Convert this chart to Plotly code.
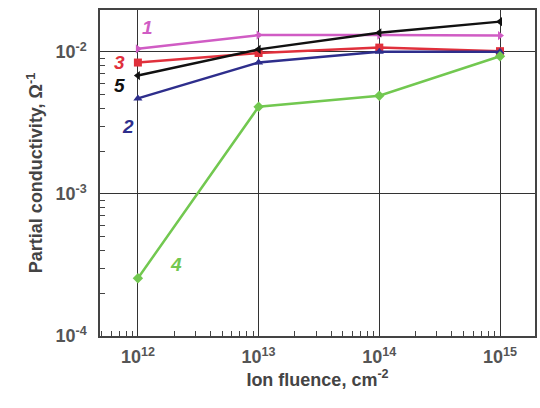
import math
import plotly.graph_objects as go

fluence = [1e12, 1e13, 1e14, 1e15]
s1 = [0.0105, 0.0131, 0.0131, 0.0130]
s3 = [0.0084, 0.0098, 0.0107, 0.0101]
s5 = [0.0068, 0.0104, 0.0136, 0.0163]
s2 = [0.0047, 0.0084, 0.0100, 0.0100]
s4 = [0.000255, 0.0041, 0.0049, 0.0093]

xtickvals = [1e12, 1e13, 1e14, 1e15]
xticktext = ["10<sup>12</sup>", "10<sup>13</sup>", "10<sup>14</sup>", "10<sup>15</sup>"]
ytickvals = [1e-4, 1e-3, 1e-2]
yticktext = ["10<sup>-4</sup>", "10<sup>-3</sup>", "10<sup>-2</sup>"]
xdecades = [1e11, 1e12, 1e13, 1e14, 1e15]
ydecades = [1e-4, 1e-3, 1e-2]
xminor = [m * d for d in xdecades for m in range(2, 10)]
yminor = [m * d for d in ydecades for m in range(2, 10)]

series = [
    ("1", s1, "#d05cc4", "triangle-right"),
    ("3", s3, "#e0303c", "square"),
    ("5", s5, "#111111", "triangle-left"),
    ("2", s2, "#2e2e8c", "triangle-up"),
    ("4", s4, "#72c850", "diamond"),
]

fig = go.Figure()
for name, ys, col, sym in series:
    fig.add_trace(go.Scatter(x=fluence, y=ys, mode="lines+markers", name=name,
                             line=dict(color=col, width=2.5),
                             marker=dict(color=col, symbol=sym, size=8)))

# label positions given in data units (converted to log for log axes)
labels = [
    ("1", 1.2e12, 0.0148, "#d05cc4"),
    ("3", 0.71e12, 0.0084, "#e0303c"),
    ("5", 0.71e12, 0.0058, "#111111"),
    ("2", 0.82e12, 0.0030, "#2e2e8c"),
    ("4", 2.05e12, 0.00032, "#72c850"),
]
for t, x, y, c in labels:
    fig.add_annotation(x=math.log10(x), y=math.log10(y), xref="x", yref="y",
                       text="<b><i>%s</i></b>" % t, showarrow=False,
                       font=dict(size=19, color=c, family="Liberation Sans"))

xr = [11.686, 15.29]
yr = [-4, -1.706]
tfont = dict(size=18, color="#555", family="Liberation Sans")
axis_common = dict(type="log", showline=True, linecolor="#444", linewidth=1.5, mirror=True,
                   showgrid=True, gridcolor="#333", gridwidth=1, ticks="", zeroline=False,
                   tickfont=tfont)

fig.update_xaxes(**axis_common, range=xr, tickvals=xtickvals, ticktext=["<b>%s</b>" % t for t in xticktext],
                 ticklabelstandoff=4,
                 title=dict(text="<b>Ion fluence, cm<sup>-2</sup></b>",
                            font=dict(size=18, color="#444", family="Liberation Sans"), standoff=4))
fig.update_yaxes(**axis_common, range=yr, tickvals=ytickvals, ticktext=["<b>%s</b>" % t for t in yticktext],
                 ticklabelstandoff=8,
                 title=dict(text="<b>Partial conductivity, Ω<sup>-1</sup></b>",
                            font=dict(size=18, color="#444", family="Liberation Sans"), standoff=8))

# overlay axes for minor inside ticks
fig.update_layout(
    xaxis2=dict(type="log", range=xr, overlaying="x", side="bottom", anchor="y",
                tickvals=xminor, ticks="inside", ticklen=5, tickcolor="#444",
                showticklabels=False, showgrid=False, zeroline=False, showline=False),
    yaxis2=dict(type="log", range=yr, overlaying="y", side="left", anchor="x",
                tickvals=yminor, ticks="inside", ticklen=5, tickcolor="#444",
                showticklabels=False, showgrid=False, zeroline=False, showline=False),
)
fig.add_trace(go.Scatter(x=[xdecades[1]], y=[ydecades[0]], xaxis="x2", yaxis="y2",
                         mode="markers", marker=dict(opacity=0), hoverinfo="skip", showlegend=False))

fig.update_layout(width=540, height=408, margin=dict(l=100, r=3, t=10, b=72),
                  paper_bgcolor="white", plot_bgcolor="white", showlegend=False,
                  font=dict(family="Liberation Sans"))
fig.write_html("out.html")
